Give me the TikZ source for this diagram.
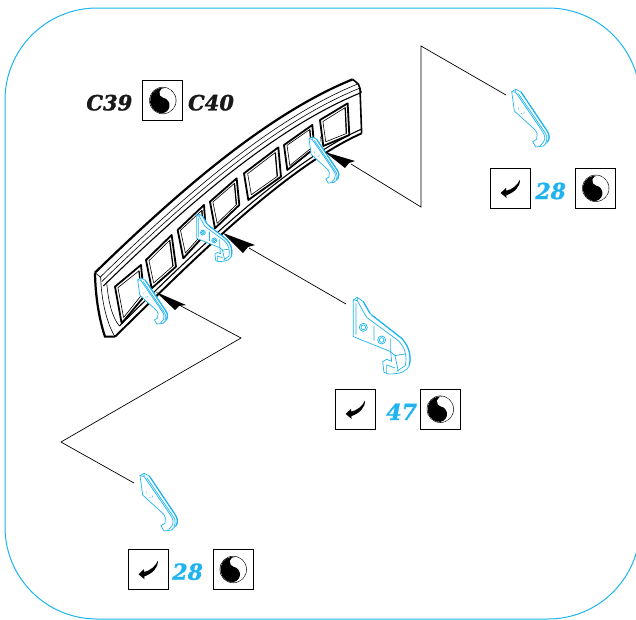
\documentclass[tikz,border=0pt]{standalone}
\usepackage{fontspec}
\setmainfont{DejaVu Serif}[BoldItalicFeatures={FakeBold=1.2}]
\usetikzlibrary{calc}
\definecolor{partblue}{HTML}{1FB4F0}
\tikzset{
  partline/.style={draw=partblue, line width=0.7pt, line join=round},
  % small hook, drawn in zoomed units from its top corner
  hookpart/.pic={
    \begin{scope}[scale=0.3333]
      \path[partline, fill=white] (0,2) -- (12,-5) -- (28,3) -- (105,118) .. controls (113,130) and (115,142) .. (108,152) -- (95,165) -- (72,168) -- (63,152) -- (75,145) -- (76,128) .. controls (75,122) and (72,118) .. (65,112) -- (8,60) -- cycle;
      \path[partline] (12,-5) -- (12,4) -- (90,118) .. controls (100,132) and (102,142) .. (96,152) -- (86,164);
      \path[partline] (0,2) -- (12,4);
      \path[partline] (20,8) -- (98,122) .. controls (106,134) and (108,142) .. (102,155);
      \path[partline, line width=1.2pt] (28,3) -- (105,118) .. controls (113,130) and (115,142) .. (108,152);
      \path[partline, line width=0.4pt] (20,50) -- (21,56) (38,62) -- (36,68) (28,66) -- (31,68);
    \end{scope}
  },
  % large bracket with the two holes
  bracketpart/.pic={
    \begin{scope}[scale=0.3333]
      \path[partline, fill=white] (0,8) -- (12,0) -- (30,13) -- (50,48) -- (55,53) -- (145,123) .. controls (165,145) and (175,170) .. (168,205) .. controls (160,222) and (145,230) .. (105,230) -- (92,225) -- (88,193) -- (100,186) -- (115,192) -- (112,163) -- (0,118) -- cycle;
      \path[partline] (12,0) -- (12,10) -- (34,50) -- (40,60) -- (135,130) .. controls (155,150) and (162,175) .. (156,205) -- (130,222);
      \path[partline] (0,8) -- (12,10) (8,18) -- (8,112) (62,85) -- (62,130) (112,123) -- (112,163);
      \path[partline] (112,163) -- (125,175) -- (135,222) (125,175) -- (155,170) (100,203) -- (125,212) (100,203) -- (100,228);
      \path[partline, line width=1.2pt] (30,13) -- (50,48) (55,53) -- (145,123) .. controls (165,145) and (175,170) .. (168,205);
      \foreach \hx/\hy in {30/90,85/128} {
        \path[partline] (\hx,\hy) circle (12);
        \path[partline] (\hx,\hy) circle (7);
      }
    \end{scope}
  },
  % the two part icons, without their box
  yinyangicon/.pic={
    \draw[line width=0.5pt] (0,0) circle (13.3);
    \begin{scope}[rotate=78]
      \fill[black] (0,0) circle (12.8);
      \begin{scope}
        \clip (-13,0) rectangle (13,14);
        \fill[white] (0,0) circle (12.9);
      \end{scope}
      \fill[black] (-5,0) circle (7.8);
      \fill[white] (7.8,0) circle (5);
    \end{scope}
  },
  backicon/.pic={
    \fill[black] (9.7,-8.7) .. controls (9.8,-1) and (4,4) .. (-4,7) -- (-3.7,9.7) -- (-9.7,4.7) -- (-4.3,-0.3) -- (-4,2.5) .. controls (2,1) and (7,-3) .. cycle;
  }
}

\begin{document}
\begin{tikzpicture}[x=1pt, y=-1pt]
	\tikzstyle{iconbox}=[draw=black, line width=0.9pt, minimum size=40pt, inner sep=0pt, fill=white]
	\tikzstyle{partno}=[text=partblue, font=\fontsize{22}{22}\selectfont\bfseries\itshape, inner sep=0pt]
	\tikzstyle{refno}=[text=black!90, font=\fontsize{21}{21}\selectfont\bfseries\itshape, inner sep=0pt]
	\tikzstyle{leader}=[black, line width=0.7pt]
	\useasboundingbox (0,0) rectangle (636,619);

	% Frame
	\draw [partblue, line width=1pt, rounded corners=92pt] (5,8) rectangle (640,619);

	% Panel
	\begin{scope}[shift={(80,70)}, scale=0.3333]
		% long lines of the rim
		\foreach \dx/\dy/\w in {0/0/2.2, 15/14/0.6, 20/27/0.6, 25/40/1.1}
			\draw [line width=\w pt] (45+\dx,608+\dy) .. controls (285+\dx,375+\dy) and (555+\dx,135+\dy) .. (818+\dx,28+\dy);
		\draw [line width=1.9pt] (105,800) .. controls (300,610) and (600,300) .. (845,190);
		\draw [line width=1.1pt] (118,768) .. controls (300,590) and (600,288) .. (843,178);
		% ends
		\draw [line width=2.2pt] (45,608) .. controls (46,680) and (58,750) .. (75,800) -- (105,800);
		\draw [line width=0.6pt] (45,608) -- (62,622) .. controls (64,690) and (80,760) .. (105,800);
		\draw [line width=0.6pt] (80,635) .. controls (84,690) and (95,740) .. (118,768);
		\draw [line width=1.6pt] (818,28) -- (835,42) -- (840,55) -- (845,190);
		\draw [line width=0.7pt] (835,42) -- (845,68);
		% Windows
		\foreach \ax/\ay/\bx/\by/\cx/\cy/\dx/\dy in {105/650/183/585/192/680/125/760, 198/570/275/495/288/590/215/655, 293/480/372/405/378/490/310/565, 390/395/470/325/478/405/405/475, 492/310/595/232/603/320/505/390, 612/225/697/165/703/235/622/300, 720/150/803/100/808/195/730/228}{
			\draw [line width=1.8pt, line join=round] (\ax,\ay) -- (\bx,\by) -- (\cx,\cy) -- (\dx,\dy) -- cycle;
			\draw [line width=0.6pt, line join=round] ($(\ax,\ay)!0.1!(\cx,\cy)$) -- ($(\bx,\by)!0.1!(\dx,\dy)$) -- ($(\cx,\cy)!0.1!(\ax,\ay)$) -- ($(\dx,\dy)!0.1!(\bx,\by)$) -- cycle;
			\draw [line width=1.2pt] ($(\bx,\by)!0.1!(\dx,\dy)$) -- ($(\cx,\cy)!0.1!(\ax,\ay)$);
		}
		\draw [line width=0.5pt] (700,190) -- (702,212) (722,200) -- (723,215);
	\end{scope}

	% Mounted parts
	\pic [scale=0.8] at (137.7,279.3) {hookpart};
	\pic [scale=0.62] at (196.7,214) {bracketpart};
	\pic [scale=0.8] at (309,138.3) {hookpart};

	% Loose parts
	\pic at (140,475) {hookpart};
	\pic at (353.3,297.3) {bracketpart};
	\pic at (511.7,91) {hookpart};

	% Arrow heads
	\fill (156,292) -- (186,305) -- (179,306) -- (175,310) -- cycle;
	\fill (223,233) -- (255,245) -- (248,247) -- (243,253) -- cycle;
	\fill (325,152) -- (355,161) -- (349,163) -- (345,168) -- cycle;

	% Leaders
	\coordinate (low_from) at (181,306);
	\coordinate (low_a) at (241,338);
	\coordinate (low_b) at (61,442);
	\coordinate (low_to) at (134,483);
	\coordinate (mid_from) at (249,248);
	\coordinate (mid_to) at (346,304);
	\coordinate (top_from) at (351,164);
	\coordinate (top_a) at (421,207);
	\coordinate (top_b) at (421,46);
	\coordinate (top_to) at (506,95);
	\draw [leader] (low_from) -- (low_a) -- (low_b) -- (low_to);
	\draw [leader] (mid_from) -- (mid_to);
	\draw [leader] (top_from) -- (top_a) -- (top_b) -- (top_to);

	% Icons and numbers
	\node at (162.8,100.5) [iconbox] (yin_ref) {};
	\node at (109.3,102.7) [refno] (ref_left) {C39};
	\node at (211,102.7) [refno] (ref_right) {C40};
	\node at (510.3,188.3) [iconbox] (back_top) {};
	\node at (550.7,191) [partno] (no_top) {28};
	\node at (595.7,188.3) [iconbox] (yin_top) {};
	\node at (355.3,409.2) [iconbox] (back_mid) {};
	\node at (401.7,411.7) [partno] (no_mid) {47};
	\node at (440.3,409.2) [iconbox] (yin_mid) {};
	\node at (148.2,569.5) [iconbox] (back_low) {};
	\node at (187.7,571.7) [partno] (no_low) {28};
	\node at (233.2,569.5) [iconbox] (yin_low) {};
	\foreach \n in {yin_ref,yin_top,yin_mid,yin_low}
		\pic at (\n) {yinyangicon};
	\foreach \n in {back_top,back_mid,back_low}
		\pic at (\n) {backicon};
\end{tikzpicture}
\end{document}
